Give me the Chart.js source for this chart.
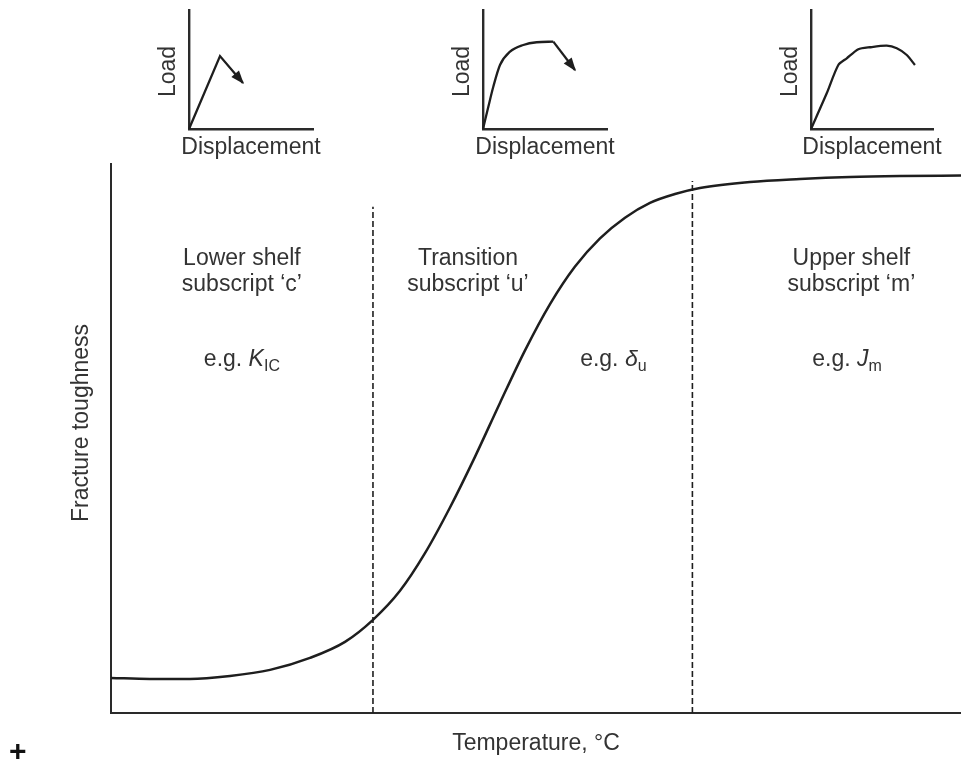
<!DOCTYPE html>
<html>
<head>
<meta charset="utf-8">
<title>Fracture toughness transition</title>
<script src="https://cdn.jsdelivr.net/npm/chart.js@4.4.1/dist/chart.umd.min.js"></script>
<style>
  html, body { margin: 0; padding: 0; background: #fff; }
  #wrap { position: relative; width: 961px; height: 764px; overflow: hidden; background: #fff; }
  #wrap canvas { position: absolute; top: 0; }
  #mark { position: absolute; left: 9px; top: 736px; font: 700 30px "Liberation Sans", Arial, sans-serif; color: #111; line-height: 30px; }
</style>
</head>
<body>
<div id="wrap">
  <canvas id="main" width="961" height="764" style="left:0"></canvas>
  <canvas id="sketch1" width="200" height="165" style="left:144px"></canvas>
  <canvas id="sketch2" width="200" height="165" style="left:438px"></canvas>
  <canvas id="sketch3" width="200" height="165" style="left:766px"></canvas>
  <span id="mark">+</span>
</div>
<script>
// Toughness vs temperature (arbitrary units, both axes 0-100)
const temperature = [0, 4.59, 9.29, 14.0, 18.71, 23.41, 27.53, 30.82, 34.0, 36.94, 39.88, 42.82, 45.76, 48.71, 51.65, 54.59, 57.53, 60.47, 63.41, 66.35, 69.29, 75.18, 81.06, 86.94, 92.82, 100];
const toughness   = [6.39, 6.20, 6.20, 6.75, 7.85, 10.04, 12.96, 16.97, 22.26, 29.11, 37.43, 46.66, 56.48, 66.06, 74.49, 81.33, 86.46, 90.22, 92.92, 94.53, 95.62, 96.72, 97.26, 97.63, 97.81, 97.90];

// Region boundaries (dashed) and how far up each one reaches
const boundaryTemps = [30.82, 68.4];
const boundaryTops  = [92.2, 96.9];

// Region captions
const regionTitles     = ['Lower shelf', 'Transition', 'Upper shelf'];
const regionSubscripts = ['subscript \u2018c\u2019', 'subscript \u2018u\u2019', 'subscript \u2018m\u2019'];
const regionSymbols    = ['K', '\u03b4', 'J'];
const regionSymbolSubs = ['IC', 'u', 'm'];
const xAxisTitle = 'Temperature, \u00b0C';
const yAxisTitle = 'Fracture toughness';

// Load-displacement sketches for each regime
const brittleDisp = [0, 25, 43.5];
const brittleLoad = [0, 61.3, 38.7];
const mixedDisp = [0, 4.3, 8.3, 13.7, 21.8, 32.5, 43.3, 56.7];
const mixedLoad = [0, 18.7, 35.5, 53.8, 65.0, 70.6, 72.9, 73.4];
const mixedDropDisp = [56.7, 74.2];
const mixedDropLoad = [73.4, 49.6];
const ductileDisp = [0, 12.9, 22.4, 29.3, 38.8, 48.4, 62.1, 70.3, 78.5, 85.2];
const ductileLoad = [0, 30.0, 53.8, 59.4, 67.0, 68.7, 70.0, 67.8, 62.2, 53.8];
const sketchXTitle = 'Displacement';
const sketchYTitle = 'Load';

// ---- styling / layout ----
const FAMILY = '"Liberation Sans", Arial, Helvetica, sans-serif';
const FONT_SIZE = 23;
const TEXT = '#333';
const INK = '#1e1e1e';

// caption placement in data units of the main chart
const captionLayout = {
  titleX: [15.4, 42.0, 87.1],
  titleY: [82.8, 78.1],
  exampleX: [15.4, 59.1, 86.6],
  exampleY: 64.6
};

const pts = (xs, ys) => xs.map((x, i) => ({ x, y: ys[i] }));

function bareAxis(horizontal, borderWidth) {
  return {
    type: 'linear', min: 0, max: 100,
    ticks: { display: false },
    grid: { display: false },
    border: { display: true, color: '#2a2a2a', width: borderWidth },
    afterFit: s => { if (horizontal) s.height = 0; else s.width = 0; }
  };
}

// text made of plain / italic / subscript runs, centred on cx
function drawRuns(ctx, runs, cx, cy, size) {
  const fontOf = r => `${r.italic ? 'italic ' : ''}${r.sub ? Math.round(size * 0.7) : size}px ${FAMILY}`;
  let total = 0;
  runs.forEach(r => { ctx.font = fontOf(r); r.w = ctx.measureText(r.t).width; total += r.w; });
  let x = cx - total / 2;
  const base = cy + size * 0.35;
  ctx.textAlign = 'left';
  ctx.textBaseline = 'alphabetic';
  runs.forEach(r => {
    ctx.font = fontOf(r);
    ctx.fillText(r.t, x, base + (r.sub ? size * 0.22 : 0));
    x += r.w;
  });
}

const mainCaptions = {
  id: 'mainCaptions',
  afterDraw(chart) {
    const { ctx, chartArea: a, scales: { x, y } } = chart;
    ctx.save();
    ctx.fillStyle = TEXT;
    ctx.font = `${FONT_SIZE}px ${FAMILY}`;
    ctx.textAlign = 'center';
    ctx.textBaseline = 'middle';
    ctx.fillText(xAxisTitle, (a.left + a.right) / 2, a.bottom + 31);
    ctx.save();
    ctx.translate(a.left - 29, a.top + 259);
    ctx.rotate(-Math.PI / 2);
    ctx.fillText(yAxisTitle, 0, 0);
    ctx.restore();
    regionTitles.forEach((t, i) => {
      ctx.font = `${FONT_SIZE}px ${FAMILY}`;
      ctx.textAlign = 'center';
      ctx.textBaseline = 'middle';
      const cx = x.getPixelForValue(captionLayout.titleX[i]);
      ctx.fillText(t, cx, y.getPixelForValue(captionLayout.titleY[0]));
      ctx.fillText(regionSubscripts[i], cx, y.getPixelForValue(captionLayout.titleY[1]));
      drawRuns(ctx, [
        { t: 'e.g. ' },
        { t: regionSymbols[i], italic: true },
        { t: regionSymbolSubs[i], sub: true }
      ], x.getPixelForValue(captionLayout.exampleX[i]), y.getPixelForValue(captionLayout.exampleY), FONT_SIZE);
    });
    ctx.restore();
  }
};

new Chart(document.getElementById('main'), {
  type: 'scatter',
  data: {
    datasets: [
      {
        data: pts(temperature, toughness), showLine: true, borderColor: INK, borderWidth: 2.5,
        pointRadius: 0, cubicInterpolationMode: 'monotone', clip: false
      },
      ...boundaryTemps.map((t, i) => ({
        data: [{ x: t, y: 0 }, { x: t, y: boundaryTops[i] }], showLine: true,
        borderColor: INK, borderWidth: 1.6, borderDash: [6, 3], pointRadius: 0
      }))
    ]
  },
  options: {
    responsive: false, animation: false, devicePixelRatio: 1,
    layout: { padding: { left: 111, top: 164, right: 0, bottom: 51 } },
    plugins: { legend: { display: false }, tooltip: { enabled: false } },
    scales: { x: bareAxis(true, 2), y: bareAxis(false, 2) }
  },
  plugins: [mainCaptions]
});

// arrow heads and axis captions for the small sketches
const sketchDecor = {
  id: 'sketchDecor',
  afterDatasetsDraw(chart) {
    const ctx = chart.ctx;
    chart.data.datasets.forEach((ds, i) => {
      if (!ds.arrowHead) return;
      const el = chart.getDatasetMeta(i).data;
      const p1 = el[el.length - 2], p2 = el[el.length - 1];
      const ang = Math.atan2(p2.y - p1.y, p2.x - p1.x);
      const len = 12, half = 5;
      const bx = p2.x - len * Math.cos(ang), by = p2.y - len * Math.sin(ang);
      ctx.save();
      ctx.fillStyle = INK;
      ctx.beginPath();
      ctx.moveTo(p2.x + 1.5 * Math.cos(ang), p2.y + 1.5 * Math.sin(ang));
      ctx.lineTo(bx + half * Math.sin(ang), by - half * Math.cos(ang));
      ctx.lineTo(bx - half * Math.sin(ang), by + half * Math.cos(ang));
      ctx.closePath();
      ctx.fill();
      ctx.restore();
    });
  },
  afterDraw(chart) {
    const { ctx, chartArea: a } = chart;
    ctx.save();
    ctx.fillStyle = TEXT;
    ctx.font = `${FONT_SIZE}px ${FAMILY}`;
    ctx.textAlign = 'center';
    ctx.textBaseline = 'middle';
    ctx.fillText(sketchXTitle, (a.left + a.right) / 2, a.bottom + 19);
    ctx.translate(a.left - 20.5, (a.top + a.bottom) / 2 + 2);
    ctx.rotate(-Math.PI / 2);
    ctx.fillText(sketchYTitle, 0, 0);
    ctx.restore();
  }
};

function sketch(id, plotWidth, datasets) {
  new Chart(document.getElementById(id), {
    type: 'scatter',
    data: {
      datasets: datasets.map(d => Object.assign({
        showLine: true, borderColor: INK, borderWidth: 2.3, pointRadius: 0, clip: false
      }, d))
    },
    options: {
      responsive: false, animation: false, devicePixelRatio: 1,
      layout: { padding: { left: 45, top: 10, right: 200 - 45 - plotWidth, bottom: 36 } },
      plugins: { legend: { display: false }, tooltip: { enabled: false } },
      scales: { x: bareAxis(true, 2.4), y: bareAxis(false, 2.4) }
    },
    plugins: [sketchDecor]
  });
}

sketch('sketch1', 124, [
  { data: pts(brittleDisp, brittleLoad), arrowHead: true }
]);
sketch('sketch2', 124, [
  { data: pts(mixedDisp, mixedLoad), cubicInterpolationMode: 'monotone' },
  { data: pts(mixedDropDisp, mixedDropLoad), arrowHead: true }
]);
sketch('sketch3', 122, [
  { data: pts(ductileDisp, ductileLoad), tension: 0.25 }
]);
</script>
</body>
</html>
